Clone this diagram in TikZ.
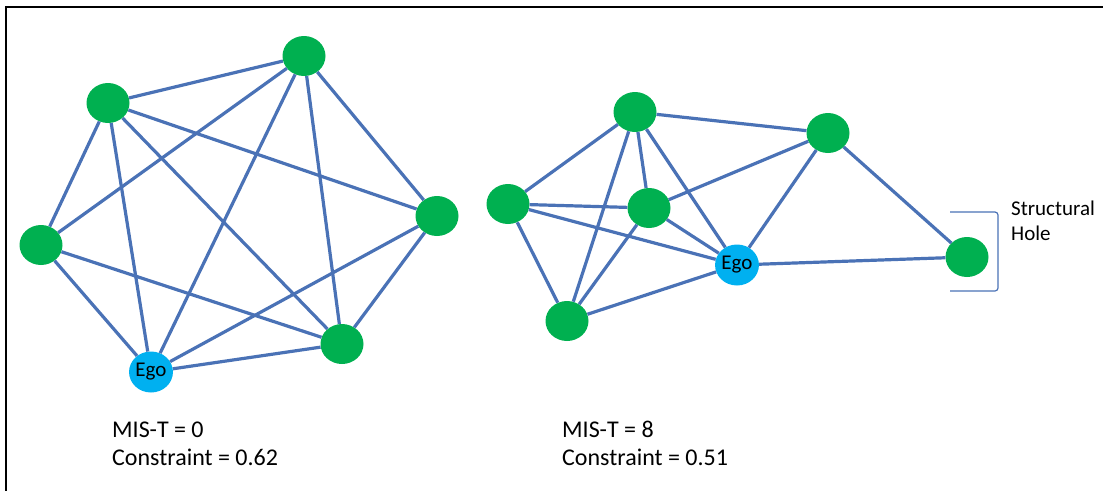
\documentclass[tikz,border=0pt]{standalone}
\usepackage{fontspec}
\setmainfont{Carlito}
\usetikzlibrary{positioning,shapes.geometric}

\definecolor{tieblue}{HTML}{4A72B6}
\definecolor{alterGreen}{HTML}{00B050}
\definecolor{egoBlue}{HTML}{00B0F0}

\begin{document}
\begin{tikzpicture}[x=1pt, y=-1pt,
	alter/.style={ellipse, fill=alterGreen, minimum width=43pt, minimum height=40pt, inner sep=0pt},
	egonode/.style={ellipse, fill=egoBlue, minimum width=43pt, minimum height=41pt, inner sep=0pt,
		font=\fontsize{21}{21}\selectfont},
	tie/.style={draw=tieblue, line width=3.2pt},
	score/.style={anchor=base west, inner sep=0pt, font=\fontsize{24}{24}\selectfont},
]

\useasboundingbox (0,0) rectangle (1103,491);

% Frame (top and left only)
\draw[line width=2pt] (1103,7) -- (6,7) -- (6,491);

% Left network: closed ego network
\node [alter] (lTopLeft) at (108,103) {};
\node [alter] (lTop) at (304,56) {};
\node [alter] (lRight) at (437,216) {};
\node [alter] (lBottomRight) at (342,344) {};
\node [alter] (lLeft) at (41,245) {};
\node [egonode] (lEgo) at (151,372) {Ego};

\draw[tie] (lTopLeft) -- (lTop);
\draw[tie] (lTopLeft) -- (lLeft);
\draw[tie] (lTopLeft) -- (lEgo);
\draw[tie] (lTopLeft) -- (lBottomRight);
\draw[tie] (lTopLeft) -- (lRight);
\draw[tie] (lTop) -- (lLeft);
\draw[tie] (lTop) -- (lEgo);
\draw[tie] (lTop) -- (lBottomRight);
\draw[tie] (lTop) -- (lRight);
\draw[tie] (lRight) -- (lEgo);
\draw[tie] (lRight) -- (lBottomRight);
\draw[tie] (lLeft) -- (lBottomRight);
\draw[tie] (lLeft) -- (lEgo);
\draw[tie] (lEgo) -- (lBottomRight);

% Right network: ego spans a structural hole
\node [alter] (rTop) at (635,112) {};
\node [alter] (rLeft) at (508,204) {};
\node [alter] (rCenter) at (649,208) {};
\node [alter] (rBottom) at (567,321) {};
\node [alter] (rTopRight) at (828,133) {};
\node [alter] (rHole) at (967,257) {};
\node [egonode] (rEgo) at (737,265) {Ego};

\draw[tie] (rTop) -- (rTopRight);
\draw[tie] (rTop) -- (rLeft);
\draw[tie] (rTop) -- (rBottom);
\draw[tie] (rTop) -- (rCenter);
\draw[tie] (rTop) -- (rEgo);
\draw[tie] (rLeft) -- (rCenter);
\draw[tie] (rLeft) -- (rEgo);
\draw[tie] (rLeft) -- (rBottom);
\draw[tie] (rCenter) -- (rBottom);
\draw[tie] (rCenter) -- (rEgo);
\draw[tie] (rCenter) -- (rTopRight);
\draw[tie] (rBottom) -- (rEgo);
\draw[tie] (rTopRight) -- (rEgo);
\draw[tie] (rTopRight) -- (rHole);
\draw[tie] (rEgo) -- (rHole);

% Bracket and label
\draw[tieblue, line width=1.2pt, rounded corners=3pt]
	([shift={(-17,-45)}]rHole.center) -- ([shift={(31,-45)}]rHole.center)
	-- ([shift={(31,34)}]rHole.center) -- ([shift={(-17,34)}]rHole.center);
\node [anchor=base west, inner sep=0pt, font=\fontsize{21}{25}\selectfont, align=left]
	(holeLabel) at (1011,240) {Structural\\Hole};

% Scores
\node [score] (lMis) at (112,437) {MIS-T = 0};
\node [score] (lConstraint) at (112,465) {Constraint = 0.62};
\node [score] (rMis) at (562,437) {MIS-T = 8};
\node [score] (rConstraint) at (562,465) {Constraint = 0.51};

\end{tikzpicture}
\end{document}
